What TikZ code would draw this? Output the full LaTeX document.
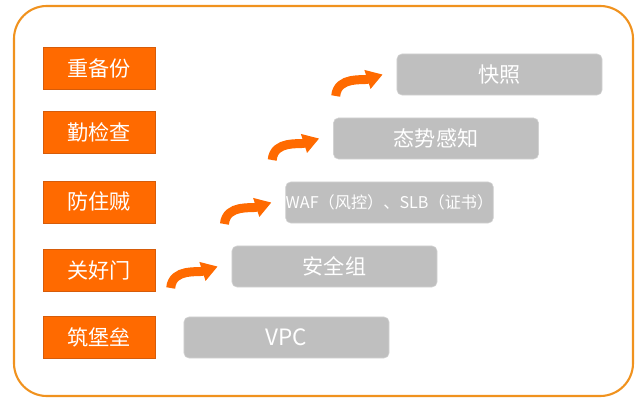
\documentclass[tikz,border=0pt]{standalone}
\usepackage{fontspec}
\setmainfont{Noto Sans CJK SC}
\usetikzlibrary{arrows.meta,calc}
\definecolor{frame}{RGB}{240, 146, 30}
\definecolor{main}{RGB}{255, 106, 0}
\definecolor{mainedge}{RGB}{214, 92, 10}
\definecolor{layer}{RGB}{191, 191, 191}
\definecolor{layeredge}{RGB}{210, 210, 210}
\tikzset{
  obox/.style={
    draw=mainedge, thin, fill=main, text=white,
    minimum width=2.8cm, minimum height=1.05cm, inner sep=0pt,
    font=\fontsize{15}{18}\selectfont
  },
  gbox/.style={
    draw=layeredge, thin, rounded corners=3.5pt, fill=layer, text=white,
    minimum width=5.125cm, minimum height=1.025cm, inner sep=0pt,
    font=\fontsize{15}{18}\selectfont
  },
  arr/.style={-{Triangle[length=0.4cm,width=0.47cm]}, line width=0.225cm, draw=main}
}

\begin{document}
\begin{tikzpicture}[x=0.025cm,y=-0.025cm]
\useasboundingbox (0,0) rectangle (641,407);
\draw[frame, line width=1.5pt, rounded corners=0.82cm] (14,6) rectangle (633,396);

% left column
\node[obox] (backup) at (99,68) {重备份};
\node[obox] (check) at (99,132) {勤检查};
\node[obox] (thief) at (99,202) {防住贼};
\node[obox] (door) at (99,270.5) {关好门};
\node[obox] (fort) at (99,337) {筑堡垒};

% layers
\node[gbox] (snap) at (499.5,74.5) {快照};
\node[gbox] (aware) at (436,138.5) {态势感知};
\node[gbox, font=\fontsize{11.5}{14}\selectfont] (waf) at (389.5,202.5) {WAF（风控）、SLB（证书）};
\node[gbox] (sg) at (334.5,266.5) {安全组};
\node[gbox, font=\fontsize{16}{18}\selectfont] (vpc) at (286.5,337.5) {VPC};

% steps up
\foreach \n in {sg,waf,aware,snap}{
  \draw[arr] ($(\n.west)+(-61,21.5)$) to[out=85,in=198] ([xshift=-0.35cm]\n.west);
}
\end{tikzpicture}
\end{document}
